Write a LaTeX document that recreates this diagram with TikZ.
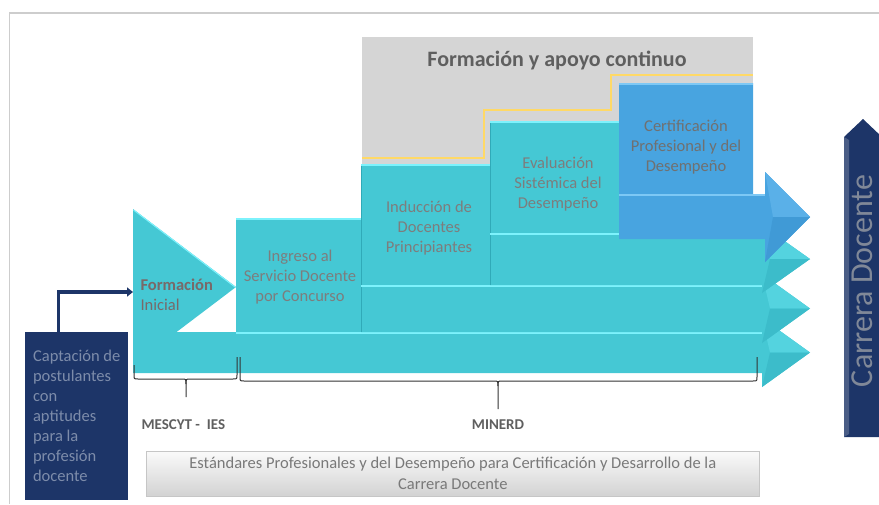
\documentclass[tikz,border=0pt]{standalone}
\usepackage{fontspec}
\setmainfont{Carlito}
\usetikzlibrary{arrows.meta}

\definecolor{stageteal}{RGB}{69,200,212}
\definecolor{tealedge}{RGB}{125,242,252}
\definecolor{tealdark}{RGB}{48,170,184}
\definecolor{headlight}{RGB}{84,211,223}
\definecolor{headdark}{RGB}{60,188,202}
\definecolor{certblue}{RGB}{72,164,224}
\definecolor{blueedge}{RGB}{125,200,245}
\definecolor{bluelight}{RGB}{90,176,232}
\definecolor{bluedark}{RGB}{64,154,214}
\definecolor{navyblue}{RGB}{29,53,104}
\definecolor{apoyogray}{RGB}{213,213,213}
\definecolor{stagetextgray}{RGB}{125,125,125}
\definecolor{titlegray}{RGB}{95,95,95}
\definecolor{lineyellow}{RGB}{255,217,102}
\definecolor{framegray}{RGB}{205,205,205}
\definecolor{captextblue}{RGB}{125,140,170}
\definecolor{carreratext}{RGB}{128,136,152}
\definecolor{formtext}{RGB}{120,105,105}

\tikzset{
  stagelabel/.style={text=stagetextgray,font=\fontsize{16.5}{19.8}\selectfont,align=center},
  boldlabel/.style={text=titlegray,font=\bfseries\fontsize{15}{18}\selectfont},
  bracket/.style={line width=1pt,black!80},
  topedge/.style={tealedge,line width=1.5pt}
}

\begin{document}
\begin{tikzpicture}[x=1pt,y=-1pt]
        \useasboundingbox (0,0) rectangle (879,504);

        % Frame
        \draw[framegray,line width=1.5pt] (9.5,504) -- (9.5,13) -- (879,13);

        % Formacion y apoyo continuo
        \node[fill=apoyogray,anchor=north west,minimum width=391pt,minimum height=128pt,inner sep=0pt] (apoyo) at (362,37) {};
        \node[text=titlegray,font=\bfseries\fontsize{22}{26}\selectfont] (apoyotitle) at (557,60) {Formación y apoyo continuo};
        \draw[lineyellow,line width=2pt] (362,158) -- (484,158) -- (484,110) -- (611,110) -- (611,75) -- (753,75);

        % Ingreso (bottom arrow)
        \fill[stageteal] (236,218) -- (361,218) -- (361,332) -- (762,332) -- (762,318) -- (810,352.5) -- (762,387) -- (762,373) -- (133,373) -- (133,332) -- (236,332) -- cycle;
        \fill[headlight] (762,318) -- (810,352.5) -- (770,352.5) -- cycle;
        \fill[headdark] (762,387) -- (810,352.5) -- (770,352.5) -- cycle;
        \draw[topedge] (236,219) -- (361,219);
        \draw[topedge] (236,333) -- (762,333);
        \node[stagelabel] (ingreso) at (300,277) {Ingreso al\\Servicio Docente\\por Concurso};

        % Induccion
        \fill[stageteal] (361,164) -- (490,164) -- (490,285) -- (762,285) -- (762,274) -- (810,308.5) -- (762,343) -- (762,332) -- (361,332) -- cycle;
        \fill[headlight] (762,274) -- (810,308.5) -- (770,308.5) -- cycle;
        \fill[headdark] (762,343) -- (810,308.5) -- (770,308.5) -- cycle;
        \draw[tealdark,line width=1pt] (361.5,164) -- (361.5,332);
        \draw[topedge] (361,165) -- (490,165);
        \draw[topedge] (361,286) -- (762,286);
        \node[stagelabel] (induccion) at (429,228) {Inducción de\\Docentes\\Principiantes};

        % Evaluacion
        \fill[stageteal] (490,121) -- (619,121) -- (619,233) -- (762,233) -- (762,225) -- (810,259) -- (762,293) -- (762,285) -- (490,285) -- cycle;
        \fill[headlight] (762,225) -- (810,259) -- (770,259) -- cycle;
        \fill[headdark] (762,293) -- (810,259) -- (770,259) -- cycle;
        \draw[tealdark,line width=1pt] (490.5,121) -- (490.5,285);
        \draw[topedge] (490,122) -- (619,122);
        \draw[topedge] (490,234) -- (762,234);
        \node[stagelabel] (evaluacion) at (558,184) {Evaluación\\Sistémica del\\Desempeño};

        % Certificacion
        \fill[certblue] (619,83) -- (753,83) -- (753,194) -- (765,194) -- (765,172) -- (810,217) -- (765,262) -- (765,239) -- (619,239) -- cycle;
        \fill[bluelight] (765,172) -- (810,217) -- (773,217) -- cycle;
        \fill[bluedark] (765,262) -- (810,217) -- (773,217) -- cycle;
        \draw[blueedge,line width=1.5pt] (619,84) -- (753,84);
        \draw[blueedge,line width=1.5pt] (619,195) -- (765,195);
        \node[stagelabel,text=stagetextgray!90!black] (certificacion) at (686,147) {Certificación\\Profesional y del\\Desempeño};

        % Formacion inicial
        \fill[stageteal] (133,209) -- (236,287) -- (133,365) -- cycle;
        \draw[tealedge,line width=1pt] (133.5,210) -- (235,287);
        \coordinate (formin) at (133,292);
        \node[anchor=west,align=left,text=formtext,font=\fontsize{16.5}{19.8}\selectfont] (formacion) at (137,295) {\textbf{Formación}\\Inicial};

        % Captacion
        \node[fill=navyblue,anchor=north west,minimum width=103pt,minimum height=168pt,inner sep=0pt,align=left,text=captextblue,font=\fontsize{16.5}{20}\selectfont] (captacion) at (25,332) {Captación de\\postulantes\\con\\aptitudes\\para la\\profesión\\docente};
        \draw[navyblue,line width=3.2pt,-{Triangle[length=6pt,width=9pt]}] ([xshift=-18.5pt]captacion.north) |- (formin);

        % Braces
        \draw[bracket] (134,365) -- (134,375) .. controls (134,379) .. (138,379) -- (182,379) .. controls (186,379) .. (186,384) -- (186,397);
        \draw[bracket] (186,384) .. controls (186,379) .. (190,379) -- (233,379) .. controls (237,379) .. (237,375) -- (237,357);
        \draw[bracket] (240,357) -- (240,377) .. controls (240,381) .. (244,381) -- (494,381) .. controls (498,381) .. (498,386) -- (498,409);
        \draw[bracket] (498,386) .. controls (498,381) .. (502,381) -- (753,381) .. controls (757,381) .. (757,377) -- (757,357);
        \node[boldlabel,anchor=west] (mescyt) at (138,425) {MESCYT -~ IES};
        \node[boldlabel] (minerd) at (498,425) {MINERD};

        % Estandares
        \node[anchor=north west,minimum width=613pt,minimum height=45pt,inner sep=0pt,top color=white!96!gray,bottom color=gray!35,draw=gray!45,line width=0.6pt] (estandares) at (146,451) {};
        \node[stagelabel,text=gray!95!black,font=\fontsize{16.5}{21}\selectfont] (estandarestext) at (estandares.center) {Estándares Profesionales y del Desempeño para Certificación y Desarrollo de la\\Carrera Docente};

        % Carrera docente
        \fill[navyblue] (844,437) -- (844,137) -- (863,119) -- (882,137) -- (882,437) -- cycle;
        \fill[navyblue!80!white] (844,437) -- (844,137) -- (849,140) -- (849,434) -- cycle;
        \node[rotate=90,text=carreratext,font=\fontsize{32}{38}\selectfont] (carrera) at (862,281) {Carrera Docente};
\end{tikzpicture}
\end{document}
